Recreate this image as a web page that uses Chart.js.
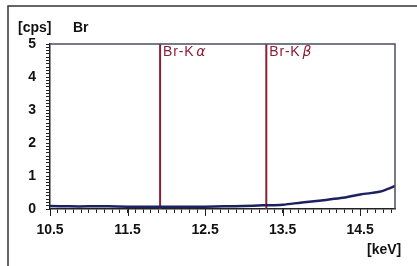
<!DOCTYPE html>
<html>
<head>
<meta charset="utf-8">
<script src="https://cdn.jsdelivr.net/npm/chart.js@4/dist/chart.umd.min.js"></script>
<style>
  html, body { margin: 0; padding: 0; background: #fff; }
  #wrap { width: 417px; height: 266px; }
</style>
</head>
<body>
<div id="wrap"><canvas id="spectrum"></canvas></div>
<script>
// energy (keV) and intensity (cps)
const energy = [10.5, 10.75, 11.0, 11.25, 11.5, 11.75, 12.0, 12.25, 12.5, 12.75, 13.0, 13.25, 13.5, 13.75, 14.0, 14.25, 14.5, 14.75, 14.85, 14.95];
const counts = [0.09, 0.08, 0.08, 0.08, 0.07, 0.07, 0.07, 0.07, 0.07, 0.08, 0.09, 0.11, 0.13, 0.20, 0.26, 0.33, 0.44, 0.52, 0.60, 0.70];

const lineNames = ["Br-K", "Br-K"];
const lineGreek = ["α", "β"];
const lineEnergy = [11.92, 13.29];

const xMin = 10.5, xMax = 14.95;
const yMin = 0, yMax = 5;

const ctx = document.getElementById("spectrum").getContext("2d");

const datasets = [{
    data: energy.map((e, i) => ({ x: e, y: counts[i] })),
    borderColor: "#1c2160",
    borderWidth: 2.5,
    pointRadius: 0,
    tension: 0.35,
    order: 1,
}];
lineEnergy.forEach(e => {
    datasets.push({
        data: [{ x: e, y: yMin }, { x: e, y: yMax }],
        borderColor: "#8c1f35",
        borderWidth: 2,
        pointRadius: 0,
        order: 2,
    });
});

// frame, major ticks and text labels
const decor = {
    id: "decor",
    beforeDraw(chart) {
        const c = chart.ctx;
        c.save();
        c.fillStyle = "#fff";
        c.fillRect(0, 0, chart.width, chart.height);
        c.strokeStyle = "#333";
        c.lineWidth = 1.5;
        c.beginPath();
        c.moveTo(8, chart.height);
        c.lineTo(8, 6);
        c.lineTo(chart.width, 6);
        c.stroke();
        c.restore();
    },
    afterDraw(chart) {
        const c = chart.ctx;
        const a = chart.chartArea;
        const xs = chart.scales.x;
        c.save();
        // plot frame top/right
        c.strokeStyle = "#4a4e62";
        c.lineWidth = 1.5;
        c.beginPath();
        c.moveTo(a.left, a.top);
        c.lineTo(a.right, a.top);
        c.lineTo(a.right, a.bottom);
        c.stroke();
        // longer major ticks on x
        c.strokeStyle = "#222";
        c.lineWidth = 1;
        for (let v = 10.5; v <= 14.5 + 1e-6; v += 1) {
            const px = Math.round(xs.getPixelForValue(v)) + 0.5;
            c.beginPath();
            c.moveTo(px, a.bottom);
            c.lineTo(px, a.bottom + 7);
            c.stroke();
        }
        // axis units and element
        c.fillStyle = "#111";
        c.font = "bold 14px 'Liberation Sans', Arial, sans-serif";
        c.textBaseline = "middle";
        c.textAlign = "left";
        c.fillText("[cps]", 18, 28);
        c.fillText("Br", 73, 28);
        c.fillText("[keV]", 367, 250);
        // emission line labels
        c.fillStyle = "#8c1f35";
        lineEnergy.forEach((e, i) => {
            const px = xs.getPixelForValue(e) + 3;
            c.font = "14px 'Liberation Sans', Arial, sans-serif";
            c.letterSpacing = "0.8px";
            c.fillText(lineNames[i], px, 52);
            const w = c.measureText(lineNames[i]).width;
            c.font = "italic 14px 'DejaVu Sans', sans-serif";
            c.letterSpacing = "0px";
            c.fillText(lineGreek[i], px + w + 2, 52);
        });
        c.restore();
    }
};

function minorTicks(from, to, step) {
    const t = [];
    const n = Math.round((to - from) / step);
    for (let i = 0; i <= n; i++) t.push({ value: +(from + i * step).toFixed(2) });
    return t;
}

const chart = new Chart(ctx, {
    type: "line",
    data: { datasets },
    plugins: [decor],
    options: {
        responsive: true,
        maintainAspectRatio: false,
        animation: false,
        layout: { padding: { top: 44, right: 22, left: 0, bottom: 0 } },
        plugins: {
            legend: { display: false },
            tooltip: { enabled: false },
        },
        scales: {
            x: {
                type: "linear",
                min: xMin,
                max: xMax,
                afterBuildTicks: s => { s.ticks = minorTicks(10.5, 14.9, 0.1); },
                afterFit: s => { s.height = 57; },
                border: { display: true, color: "#222", width: 1.5 },
                grid: { drawOnChartArea: false, drawTicks: true, tickLength: 4, tickColor: "#222" },
                ticks: {
                    autoSkip: false,
                    maxRotation: 0,
                    padding: 9,
                    color: "#111",
                    font: { family: "'Liberation Sans', Arial, sans-serif", size: 14, weight: "bold" },
                    callback: v => (Math.round(v * 10) % 10 === 5 ? v.toFixed(1) : ""),
                },
            },
            y: {
                min: yMin,
                max: yMax,
                afterBuildTicks: s => { s.ticks = minorTicks(0, 5, 0.1); },
                afterFit: s => { s.width = 50; },
                border: { display: true, color: "#222", width: 1.5 },
                grid: { drawOnChartArea: false, drawTicks: true, tickLength: 4, tickColor: "#222" },
                ticks: {
                    autoSkip: false,
                    padding: 10,
                    color: "#111",
                    font: { family: "'Liberation Sans', Arial, sans-serif", size: 14, weight: "bold" },
                    callback: v => (Math.abs(v - Math.round(v)) < 1e-6 ? String(Math.round(v)) : ""),
                },
            },
        },
    },
});
</script>
</body>
</html>
